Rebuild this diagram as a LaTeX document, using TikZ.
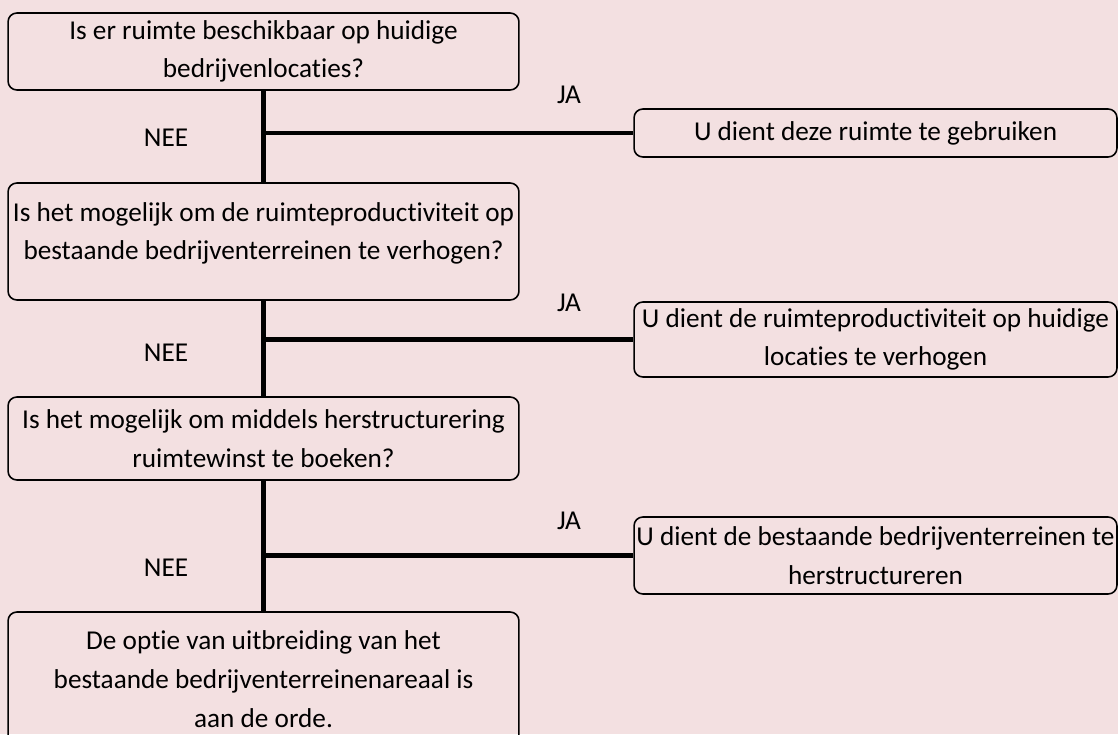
\documentclass[tikz,border=0pt]{standalone}
\usepackage{fontspec}
\setmainfont{Carlito}[Ligatures=NoCommon]
\definecolor{roze}{RGB}{243,224,225}

\begin{document}
\begin{tikzpicture}[
    x=0.02cm, y=-0.02cm,
    vak/.style={
        draw=black,
        line width=0.9pt,
        rounded corners=5pt,
        inner sep=0pt,
        align=center,
        font=\fontsize{15.5}{22}\selectfont
    },
    vraag/.style={vak, minimum width=10.22cm},
    advies/.style={vak, minimum width=9.66cm},
    lijn/.style={
        line width=2.3pt
    },
    tekst/.style={
        font=\fontsize{15.5}{22}\selectfont
    }
]

\clip (0,0) rectangle (1118,734);
\fill[roze] (0,0) rectangle (1118,734);

% =================================================
% VRAGEN
% =================================================

\node[vraag, minimum height=1.54cm] (v1) at (263.5,51.5)
{Is er ruimte beschikbaar op huidige\\bedrijvenlocaties?};

\node[vraag, minimum height=2.34cm] (v2) at (263.5,241.5)
{Is het mogelijk om de ruimteproductiviteit op\\bestaande bedrijventerreinen te verhogen?\\[-10pt]\mbox{}};

\node[vraag, minimum height=1.66cm] (v3) at (263.5,438.5)
{Is het mogelijk om middels herstructurering\\ruimtewinst te boeken?};

\node[vraag, minimum height=2.68cm] (v4) at (263.5,679)
{De optie van uitbreiding van het\\bestaande bedrijventerreinenareaal is\\aan de orde.};

% =================================================
% ADVIEZEN
% =================================================

\node[advies, minimum height=0.96cm] (a1) at (875.5,133)
{U dient deze ruimte te gebruiken};

\node[advies, minimum height=1.5cm] (a2) at (875.5,339.5)
{U dient de ruimteproductiviteit op huidige\\locaties te verhogen};

\node[advies, minimum height=1.54cm] (a3) at (875.5,555.5)
{U dient de bestaande bedrijventerreinen te\\herstructureren};

% =================================================
% VERBINDINGEN
% =================================================

\draw[lijn] (v1) -- (v2);
\draw[lijn] (v2) -- (v3);
\draw[lijn] (v3) -- (v4);

\draw[lijn] (v1.south |- a1.west) -- (a1.west);
\draw[lijn] (v2.south |- a2.west) -- (a2.west);
\draw[lijn] (v3.south |- a3.west) -- (a3.west);

\node[tekst] (ja1) at (569,95) {JA};
\node[tekst] (ja2) at (569,303) {JA};
\node[tekst] (ja3) at (569,521) {JA};

\node[tekst] (nee1) at (166,138) {NEE};
\node[tekst] (nee2) at (166,353) {NEE};
\node[tekst] (nee3) at (166,568) {NEE};

\end{tikzpicture}
\end{document}
